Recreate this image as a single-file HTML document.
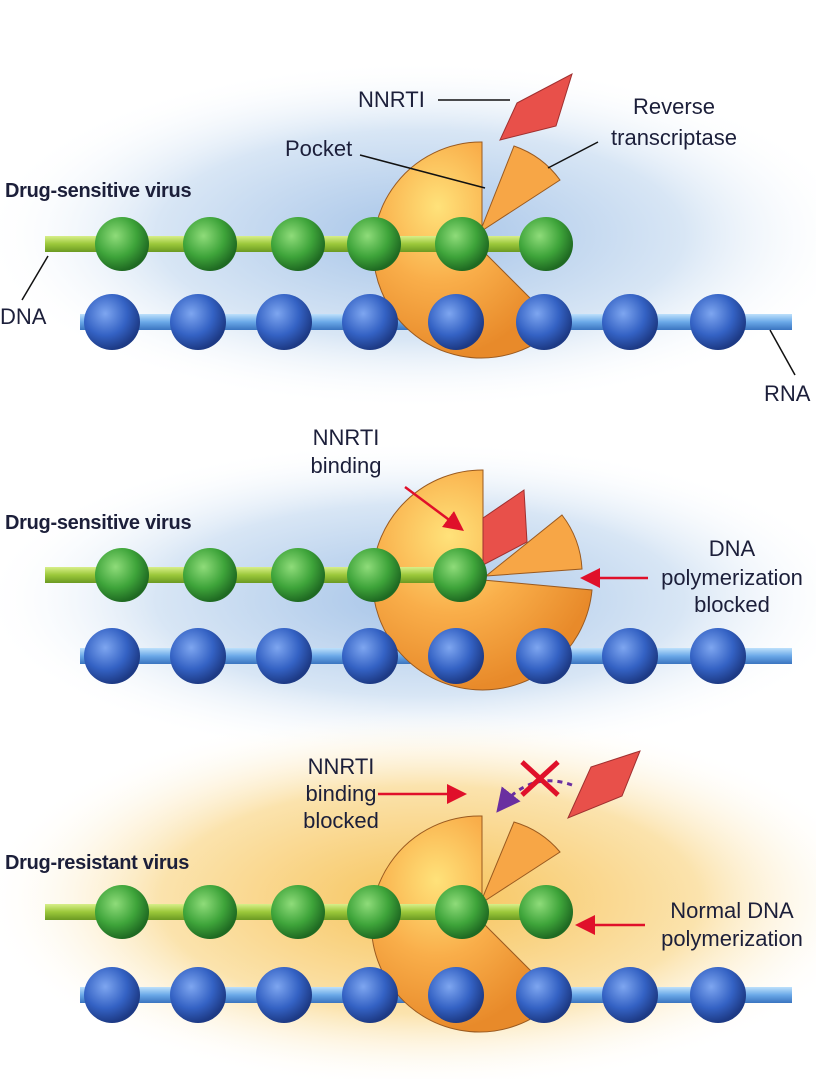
<!DOCTYPE html>
<html><head><meta charset="utf-8"><style>
html,body{margin:0;padding:0;background:#fff}
svg{display:block}
text{font-family:"Liberation Sans",sans-serif;fill:#1c1f3a;font-size:22px}
.b{font-weight:bold;font-size:20px;letter-spacing:-0.3px}
</style></head><body>
<svg width="816" height="1079" viewBox="0 0 816 1079">
<defs>
<radialGradient id="bgBlue" cx="0.5" cy="0.5" r="0.5"><stop offset="0" stop-color="#a6c4e8"/><stop offset="0.6" stop-color="#d8e6f5"/><stop offset="1" stop-color="#fff" stop-opacity="0"/></radialGradient>
<radialGradient id="bgYel" cx="0.5" cy="0.5" r="0.5"><stop offset="0" stop-color="#f7c35a"/><stop offset="0.6" stop-color="#fbe3ad"/><stop offset="1" stop-color="#fff" stop-opacity="0"/></radialGradient>
<radialGradient id="gs" cx="0.38" cy="0.35" r="0.65"><stop offset="0" stop-color="#8fdc7a"/><stop offset="0.6" stop-color="#3ea43a"/><stop offset="1" stop-color="#1f6a22"/></radialGradient>
<radialGradient id="bs" cx="0.38" cy="0.35" r="0.65"><stop offset="0" stop-color="#7ea6f0"/><stop offset="0.6" stop-color="#3462c4"/><stop offset="1" stop-color="#1d3a85"/></radialGradient>
<radialGradient id="og" cx="0.35" cy="0.3" r="0.7"><stop offset="0" stop-color="#ffe27a"/><stop offset="0.5" stop-color="#f9ae4a"/><stop offset="1" stop-color="#e88a2a"/></radialGradient>
<linearGradient id="grod" x1="0" y1="0" x2="0" y2="1"><stop offset="0" stop-color="#d8ef8a"/><stop offset="0.5" stop-color="#9bc83a"/><stop offset="1" stop-color="#6b9a22"/></linearGradient>
<linearGradient id="brod" x1="0" y1="0" x2="0" y2="1"><stop offset="0" stop-color="#bde0fb"/><stop offset="0.5" stop-color="#6aa8e8"/><stop offset="1" stop-color="#3a74c0"/></linearGradient>
<marker id="ah" markerWidth="8" markerHeight="8" refX="6" refY="4" orient="auto"><path d="M0,0 L8,4 L0,8 Z" fill="#e0102a"/></marker>
<marker id="ahp" markerWidth="8" markerHeight="8" refX="6" refY="4" orient="auto"><path d="M0,0 L8,4 L0,8 Z" fill="#6a2fa0"/></marker>
</defs>

<ellipse cx="420" cy="235" rx="440" ry="175" fill="url(#bgBlue)"/>
<ellipse cx="420" cy="600" rx="440" ry="160" fill="url(#bgBlue)"/>
<ellipse cx="430" cy="900" rx="450" ry="190" fill="url(#bgYel)"/>

<g id="p1">
<text x="5" y="197" class="b">Drug-sensitive virus</text>
<rect x="80" y="314" width="712" height="16" fill="url(#brod)"/>
<path d="M482,250 L482,142 A108,108 0 1,0 558,326 Z" fill="url(#og)" stroke="#9a5a20" stroke-width="1"/>
<path d="M480,232 L514,146 A95,95 0 0,1 560,180 Z" fill="#f7a646" stroke="#9a5a20" stroke-width="1"/>
<rect x="45" y="236" width="505" height="16" fill="url(#grod)"/>
<g>
<circle cx="122" cy="244" r="27" fill="url(#gs)"/><circle cx="210" cy="244" r="27" fill="url(#gs)"/><circle cx="298" cy="244" r="27" fill="url(#gs)"/><circle cx="374" cy="244" r="27" fill="url(#gs)"/><circle cx="462" cy="244" r="27" fill="url(#gs)"/><circle cx="546" cy="244" r="27" fill="url(#gs)"/>
</g>
<g>
<circle cx="112" cy="322" r="28" fill="url(#bs)"/><circle cx="198" cy="322" r="28" fill="url(#bs)"/><circle cx="284" cy="322" r="28" fill="url(#bs)"/><circle cx="370" cy="322" r="28" fill="url(#bs)"/><circle cx="456" cy="322" r="28" fill="url(#bs)"/><circle cx="544" cy="322" r="28" fill="url(#bs)"/><circle cx="630" cy="322" r="28" fill="url(#bs)"/><circle cx="718" cy="322" r="28" fill="url(#bs)"/>
</g>
<path d="M517,103 L572,74 L556,126 L500,140 Z" fill="#e8504a" stroke="#a03030" stroke-width="1"/>
<text x="358" y="107">NNRTI</text>
<line x1="438" y1="100" x2="510" y2="100" stroke="#111" stroke-width="1.5"/>
<text x="285" y="156">Pocket</text>
<line x1="360" y1="155" x2="485" y2="188" stroke="#111" stroke-width="1.5"/>
<text x="674" y="114" text-anchor="middle">Reverse</text>
<text x="674" y="145" text-anchor="middle">transcriptase</text>
<line x1="598" y1="142" x2="548" y2="168" stroke="#111" stroke-width="1.5"/>
<text x="0" y="324">DNA</text>
<line x1="22" y1="300" x2="48" y2="256" stroke="#111" stroke-width="1.5"/>
<text x="764" y="401">RNA</text>
<line x1="770" y1="330" x2="795" y2="375" stroke="#111" stroke-width="1.5"/>
</g>

<g>
<text x="5" y="529" class="b">Drug-sensitive virus</text>
<rect x="80" y="648" width="712" height="16" fill="url(#brod)"/>
<path d="M483,580 L483,470 A110,110 0 1,0 592,590 Z" fill="url(#og)" stroke="#9a5a20" stroke-width="1"/>
<path d="M486,576 L562,515 A97,97 0 0,1 582,569 Z" fill="#f7a646" stroke="#9a5a20" stroke-width="1"/>
<path d="M483,518 L524,490 L527,542 L483,565 Z" fill="#e8504a" stroke="#a03030" stroke-width="1"/>
<rect x="45" y="567" width="420" height="16" fill="url(#grod)"/>
<circle cx="122" cy="575" r="27" fill="url(#gs)"/><circle cx="210" cy="575" r="27" fill="url(#gs)"/><circle cx="298" cy="575" r="27" fill="url(#gs)"/><circle cx="374" cy="575" r="27" fill="url(#gs)"/><circle cx="460" cy="575" r="27" fill="url(#gs)"/>
<circle cx="112" cy="656" r="28" fill="url(#bs)"/><circle cx="198" cy="656" r="28" fill="url(#bs)"/><circle cx="284" cy="656" r="28" fill="url(#bs)"/><circle cx="370" cy="656" r="28" fill="url(#bs)"/><circle cx="456" cy="656" r="28" fill="url(#bs)"/><circle cx="544" cy="656" r="28" fill="url(#bs)"/><circle cx="630" cy="656" r="28" fill="url(#bs)"/><circle cx="718" cy="656" r="28" fill="url(#bs)"/>
<text x="346" y="445" text-anchor="middle">NNRTI</text>
<text x="346" y="473" text-anchor="middle">binding</text>
<line x1="405" y1="487" x2="460" y2="528" stroke="#e0102a" stroke-width="2.5" marker-end="url(#ah)"/>
<text x="732" y="556" text-anchor="middle">DNA</text>
<text x="732" y="585" text-anchor="middle">polymerization</text>
<text x="732" y="612" text-anchor="middle">blocked</text>
<line x1="648" y1="578" x2="585" y2="578" stroke="#e0102a" stroke-width="2.5" marker-end="url(#ah)"/>
</g>

<g>
<text x="5" y="869" class="b">Drug-resistant virus</text>
<rect x="80" y="987" width="712" height="16" fill="url(#brod)"/>
<path d="M482,922 L482,816 A108,108 0 1,0 558,998 Z" fill="url(#og)" stroke="#9a5a20" stroke-width="1"/>
<path d="M480,904 L514,822 A95,95 0 0,1 560,852 Z" fill="#f7a646" stroke="#9a5a20" stroke-width="1"/>
<rect x="45" y="904" width="505" height="16" fill="url(#grod)"/>
<circle cx="122" cy="912" r="27" fill="url(#gs)"/><circle cx="210" cy="912" r="27" fill="url(#gs)"/><circle cx="298" cy="912" r="27" fill="url(#gs)"/><circle cx="374" cy="912" r="27" fill="url(#gs)"/><circle cx="462" cy="912" r="27" fill="url(#gs)"/><circle cx="546" cy="912" r="27" fill="url(#gs)"/>
<circle cx="112" cy="995" r="28" fill="url(#bs)"/><circle cx="198" cy="995" r="28" fill="url(#bs)"/><circle cx="284" cy="995" r="28" fill="url(#bs)"/><circle cx="370" cy="995" r="28" fill="url(#bs)"/><circle cx="456" cy="995" r="28" fill="url(#bs)"/><circle cx="544" cy="995" r="28" fill="url(#bs)"/><circle cx="630" cy="995" r="28" fill="url(#bs)"/><circle cx="718" cy="995" r="28" fill="url(#bs)"/>
<path d="M591,767 L640,751 L622,796 L568,818 Z" fill="#e8504a" stroke="#a03030" stroke-width="1"/>
<path d="M572,785 Q530,770 500,808" fill="none" stroke="#6a2fa0" stroke-width="3" stroke-dasharray="5,5" marker-end="url(#ahp)"/>
<path d="M522,762 L558,795 M558,762 L522,795" stroke="#e0102a" stroke-width="5"/>
<text x="341" y="774" text-anchor="middle">NNRTI</text>
<text x="341" y="801" text-anchor="middle">binding</text>
<text x="341" y="828" text-anchor="middle">blocked</text>
<line x1="378" y1="794" x2="462" y2="794" stroke="#e0102a" stroke-width="2.5" marker-end="url(#ah)"/>
<text x="732" y="918" text-anchor="middle">Normal DNA</text>
<text x="732" y="946" text-anchor="middle">polymerization</text>
<line x1="645" y1="925" x2="580" y2="925" stroke="#e0102a" stroke-width="2.5" marker-end="url(#ah)"/>
</g>
</svg>
</body></html>
